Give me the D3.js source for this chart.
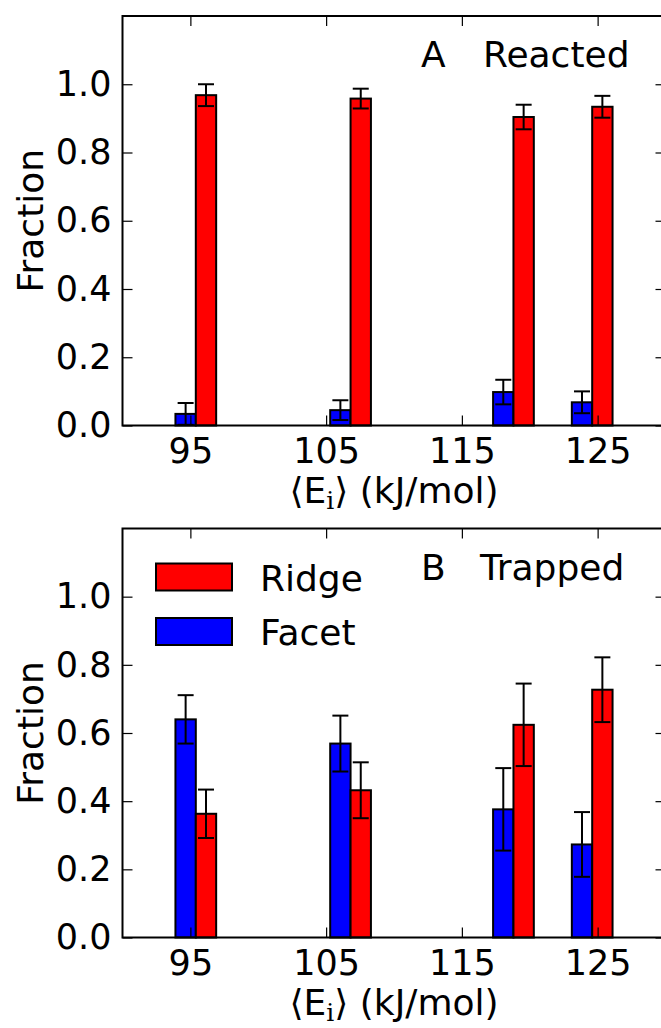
<!DOCTYPE html>
<html>
<head>
<meta charset="utf-8">
<script src="https://cdn.jsdelivr.net/npm/d3@7"></script>
<style>
  body { margin: 0; background: #fff; }
  svg { display: block; }
  text { font-family: "DejaVu Sans", sans-serif; fill: #000; }
</style>
</head>
<body>
<script>
// mean incident energy of each bar pair (facet | ridge boundary), kJ/mol
var energies = [95.4, 106.8, 118.8, 124.6];
var xTicks = [95, 105, 115, 125];
var yTicks = [0, 0.2, 0.4, 0.6, 0.8, 1.0];

// panel A: reacted
var reactedFacet = [0.034, 0.045, 0.098, 0.068];
var reactedRidge = [0.968, 0.958, 0.904, 0.934];
var reactedErr   = [0.032, 0.029, 0.036, 0.032];

// panel B: trapped
var trappedFacet = [0.640, 0.569, 0.376, 0.273];
var trappedRidge = [0.363, 0.432, 0.624, 0.727];
var trappedErr   = [0.071, 0.082, 0.121, 0.095];

var seriesNames = ["Ridge", "Facet"];
var seriesColors = {Ridge: "#ff0000", Facet: "#0000ff"};

var window_w = 661, window_h = 1028;
var fs = 35;     // tick labels
var fsL = 36;    // labels, titles, legend
var barW = 1.5;

var svg = d3.select("body").append("svg")
    .attr("width", window_w)
    .attr("height", window_h);

var xScale = d3.scaleLinear().domain([90, 130]).range([122.5, 665.5]);

function panel(top, bottom, facet, ridge, err, letter, title, titleX, legend) {
    var yScale = d3.scaleLinear().domain([0, 1.2]).range([bottom, top]);
    var g = svg.append("g");

    var rows = energies.map(function(e, i) {
        return {e: e, facet: facet[i], ridge: ridge[i], err: err[i]};
    });

    // bars: facet left of the energy, ridge right of it
    var bars = [];
    rows.forEach(function(d) {
        bars.push({x0: d.e - barW, v: d.facet, err: d.err, s: "Facet"});
        bars.push({x0: d.e, v: d.ridge, err: d.err, s: "Ridge"});
    });

    g.selectAll("rect.bar").data(bars).enter()
        .append("rect")
        .attr("class", "bar")
        .attr("x", d => xScale(d.x0))
        .attr("width", d => xScale(d.x0 + barW) - xScale(d.x0))
        .attr("y", d => yScale(d.v))
        .attr("height", d => yScale(0) - yScale(d.v))
        .attr("fill", d => seriesColors[d.s])
        .attr("stroke", "#000")
        .attr("stroke-width", 2);

    // error bars
    var eb = g.selectAll("g.err").data(bars).enter()
        .append("g").attr("class", "err")
        .attr("stroke", "#000").attr("stroke-width", 2);
    eb.append("line")
        .attr("x1", d => xScale(d.x0 + barW / 2))
        .attr("x2", d => xScale(d.x0 + barW / 2))
        .attr("y1", d => yScale(d.v + d.err))
        .attr("y2", d => yScale(Math.max(d.v - d.err, 0)));
    eb.selectAll("line.cap").data(d => [d.v + d.err, d.v - d.err].map(v => ({v: v, x: d.x0 + barW / 2})))
        .enter().append("line")
        .attr("class", "cap")
        .attr("x1", d => xScale(d.x) - 8)
        .attr("x2", d => xScale(d.x) + 8)
        .attr("y1", d => yScale(d.v))
        .attr("y2", d => yScale(d.v));

    // axes (ticks point inward)
    var xAxis = d3.axisBottom(xScale).tickValues(xTicks).tickSize(-10).tickPadding(13)
        .tickFormat(d3.format("d"));
    var xAxisTop = d3.axisTop(xScale).tickValues(xTicks).tickSize(-10).tickFormat("");
    var yAxis = d3.axisLeft(yScale).tickValues(yTicks).tickSize(-10).tickPadding(11)
        .tickFormat(d3.format(".1f"));
    var yAxisRight = d3.axisRight(yScale).tickValues(yTicks).tickSize(-10).tickFormat("");

    [
      g.append("g").attr("transform", "translate(0," + bottom + ")").call(xAxis),
      g.append("g").attr("transform", "translate(0," + top + ")").call(xAxisTop),
      g.append("g").attr("transform", "translate(" + xScale(90) + ",0)").call(yAxis),
      g.append("g").attr("transform", "translate(" + xScale(130) + ",0)").call(yAxisRight)
    ].forEach(function(a) {
        a.select(".domain").remove();
        a.selectAll(".tick line").attr("stroke", "#000").attr("stroke-width", 1.2);
        a.selectAll(".tick text").style("font-size", fs + "px")
            .style("font-family", "DejaVu Sans").attr("fill", "#000");
    });

    // frame
    g.append("rect")
        .attr("x", xScale(90)).attr("y", top)
        .attr("width", xScale(130) - xScale(90))
        .attr("height", bottom - top)
        .attr("fill", "none").attr("stroke", "#000").attr("stroke-width", 2);

    // y label
    g.append("text")
        .attr("transform", "translate(43," + ((top + bottom) / 2) + ") rotate(-90)")
        .style("text-anchor", "middle")
        .style("font-size", fsL + "px")
        .text("Fraction");

    // x label
    var xl = g.append("text")
        .attr("x", (xScale(90) + xScale(130)) / 2)
        .attr("y", bottom + 77)
        .style("text-anchor", "middle")
        .style("font-size", fsL + "px");
    xl.append("tspan").text("\u27E8E");
    xl.append("tspan").attr("dy", 6).style("font-size", "25px")
        .style("font-family", "DejaVu Serif").text("i");
    xl.append("tspan").attr("dy", -6).text("\u27E9 (kJ/mol)");

    // panel title
    g.append("text").attr("x", 421).attr("y", top + 51)
        .style("font-size", fsL + "px").text(letter);
    g.append("text").attr("x", titleX).attr("y", top + 51)
        .style("font-size", fsL + "px").text(title);

    if (legend) {
        var lg = g.selectAll("g.leg").data(seriesNames).enter()
            .append("g").attr("class", "leg")
            .attr("transform", (d, i) => "translate(156," + (top + 35 + i * 54.5) + ")");
        lg.append("rect")
            .attr("width", 76).attr("height", 27)
            .attr("fill", d => seriesColors[d])
            .attr("stroke", "#000").attr("stroke-width", 2);
        lg.append("text")
            .attr("x", 104).attr("y", 27)
            .style("font-size", fsL + "px")
            .text(d => d);
    }
}

panel(16, 425.5, reactedFacet, reactedRidge, reactedErr, "A", "Reacted", 483, false);
panel(528.5, 937.5, trappedFacet, trappedRidge, trappedErr, "B", "Trapped", 480, true);
</script>
</body>
</html>
